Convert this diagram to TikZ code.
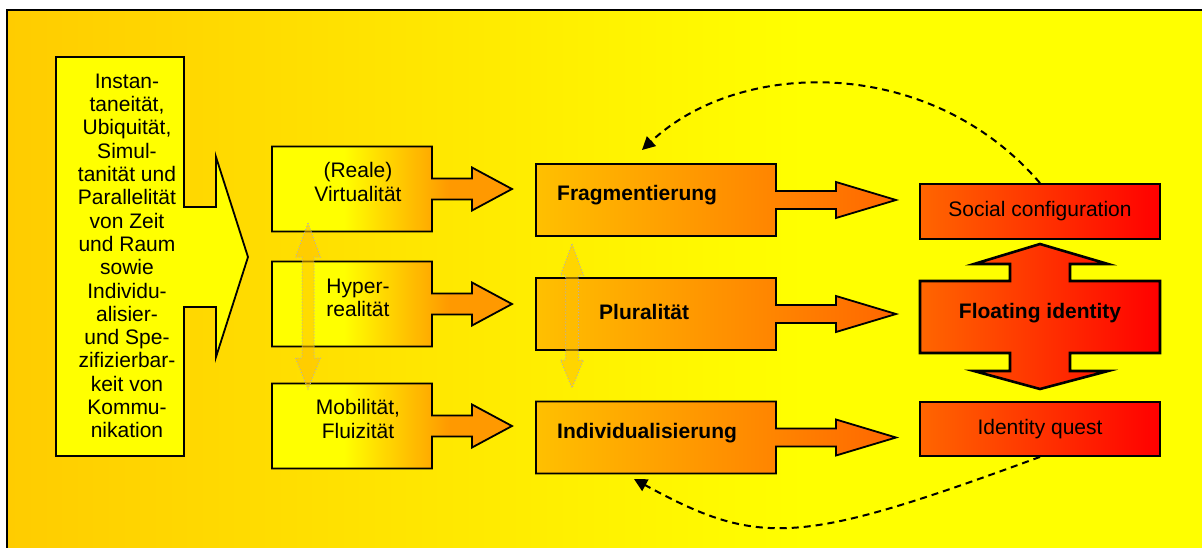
\documentclass[tikz,border=0pt]{standalone}
\usepackage{fontspec}
\setmainfont{Liberation Sans}
\usetikzlibrary{arrows.meta}
\definecolor{bgorange}{RGB}{255,204,0}
\definecolor{deeporange}{RGB}{255,153,0}
\definecolor{midorange}{RGB}{255,192,0}
\definecolor{redorange}{RGB}{255,102,0}
\definecolor{pureyellow}{RGB}{255,255,0}
\definecolor{purered}{RGB}{255,0,0}
\pgfdeclarehorizontalshading{bgshade}{100bp}{color(0bp)=(bgorange); color(25bp)=(bgorange); color(58bp)=(pureyellow); color(100bp)=(pureyellow)}
\pgfdeclarehorizontalshading{firstshade}{100bp}{color(0bp)=(pureyellow); color(40bp)=(pureyellow); color(62bp)=(deeporange); color(100bp)=(deeporange)}

\begin{document}
\begin{tikzpicture}[x=1pt,y=-1pt,
  txt/.style={font=\fontsize{21}{23.3}\selectfont,inner sep=0pt,align=center},
  bold/.style={txt,font=\fontsize{21}{23.3}\selectfont\bfseries},
  outline/.style={draw=black,line width=1.8pt,line join=miter},
  twoway/.style={draw=gray!60,dotted,line width=1pt,fill=midorange,fill opacity=0.55},
  conn/.style={dash pattern=on 7pt off 5pt,line width=2pt,-{Triangle[length=13pt,width=13pt]}}]
\useasboundingbox (0,0) rectangle (1202,547);
\fill[white] (0,0) rectangle (1202,547);
\draw[line width=1.4pt,shading=bgshade] (7,10) rectangle (1215,560);

\draw[outline,fill=pureyellow] (56,57) -- (184,57) -- (184,207) -- (216,207) -- (216,157) -- (248,257)
  -- (216,357) -- (216,307) -- (184,307) -- (184,456) -- (56,456) -- cycle;
\node[txt] (src) at (127,256) {Instan-\\taneität,\\Ubiquität,\\Simul-\\tanität und\\Parallelität\\von Zeit\\und Raum\\sowie\\Individu-\\alisier-\\und Spe-\\zifizierbar-\\keit von\\Kommu-\\nikation};

\foreach \c in {189,304,426}
\draw[outline,shading=firstshade] (272,\c-42.5) -- (432,\c-42.5) -- (432,\c-10.5) -- (472,\c-10.5) -- (472,\c-21.5)
  -- (512,\c) -- (472,\c+21.5) -- (472,\c+10.5) -- (432,\c+10.5) -- (432,\c+42.5) -- (272,\c+42.5) -- cycle;
\node[txt] (virt) at (358,182) {(Reale)\\Virtualität};
\node[txt] (hyper) at (358,298) {Hyper-\\realität};
\node[txt] (mobil) at (358,419) {Mobilität,\\Fluizität};

\foreach \c in {200,314,437.5}
\draw[outline,left color=midorange,right color=redorange] (536,\c-36) -- (776,\c-36) -- (776,\c-9) -- (836,\c-9)
  -- (836,\c-18) -- (896,\c) -- (836,\c+18) -- (836,\c+9) -- (776,\c+9) -- (776,\c+36) -- (536,\c+36) -- cycle;
\node[bold,anchor=west] (frag) at (557,195) {Fragmentierung};
\node[bold,anchor=west] (plural) at (599,312) {Pluralität};
\node[bold,anchor=west] (indiv) at (557,433) {Individualisierung};

\draw[twoway] (308,223) -- (320.5,257) -- (314,257) -- (314,358) -- (320.5,358) -- (308,389) -- (295.5,358)
  -- (302,358) -- (302,257) -- (295.5,257) -- cycle;
\draw[twoway] (572,244) -- (583.5,275) -- (578.5,275) -- (578.5,360) -- (583.5,360) -- (572,388) -- (560.5,360)
  -- (565.5,360) -- (565.5,275) -- (560.5,275) -- cycle;

\node[txt,outline,left color=redorange,right color=purered,minimum width=240pt,minimum height=55pt] (social) at (1040,211.5) {Social configuration};
\node[txt,outline,left color=redorange,right color=purered,minimum width=240pt,minimum height=54pt] (quest) at (1040,429) {Identity quest};
\draw[outline,line width=2.6pt,left color=redorange,right color=purered] (1040,244) -- (1108,264) -- (1070,264) -- (1070,281)
  -- (1160,281) -- (1160,353) -- (1070,353) -- (1070,371) -- (1108,371) -- (1040,389) -- (974,371) -- (1010,371)
  -- (1010,353) -- (920,353) -- (920,281) -- (1010,281) -- (1010,264) -- (974,264) -- cycle;
\node[bold] (floating) at (1040,313) {Floating identity};

\coordinate (fragtop) at (642,150);
\coordinate (indivbot) at (634,479);
\draw[conn] (social.north) .. controls (930,55) and (740,58) .. (fragtop);
\draw[conn] (quest.south) .. controls (800,545) and (760,548) .. (indivbot);
\end{tikzpicture}
\end{document}
